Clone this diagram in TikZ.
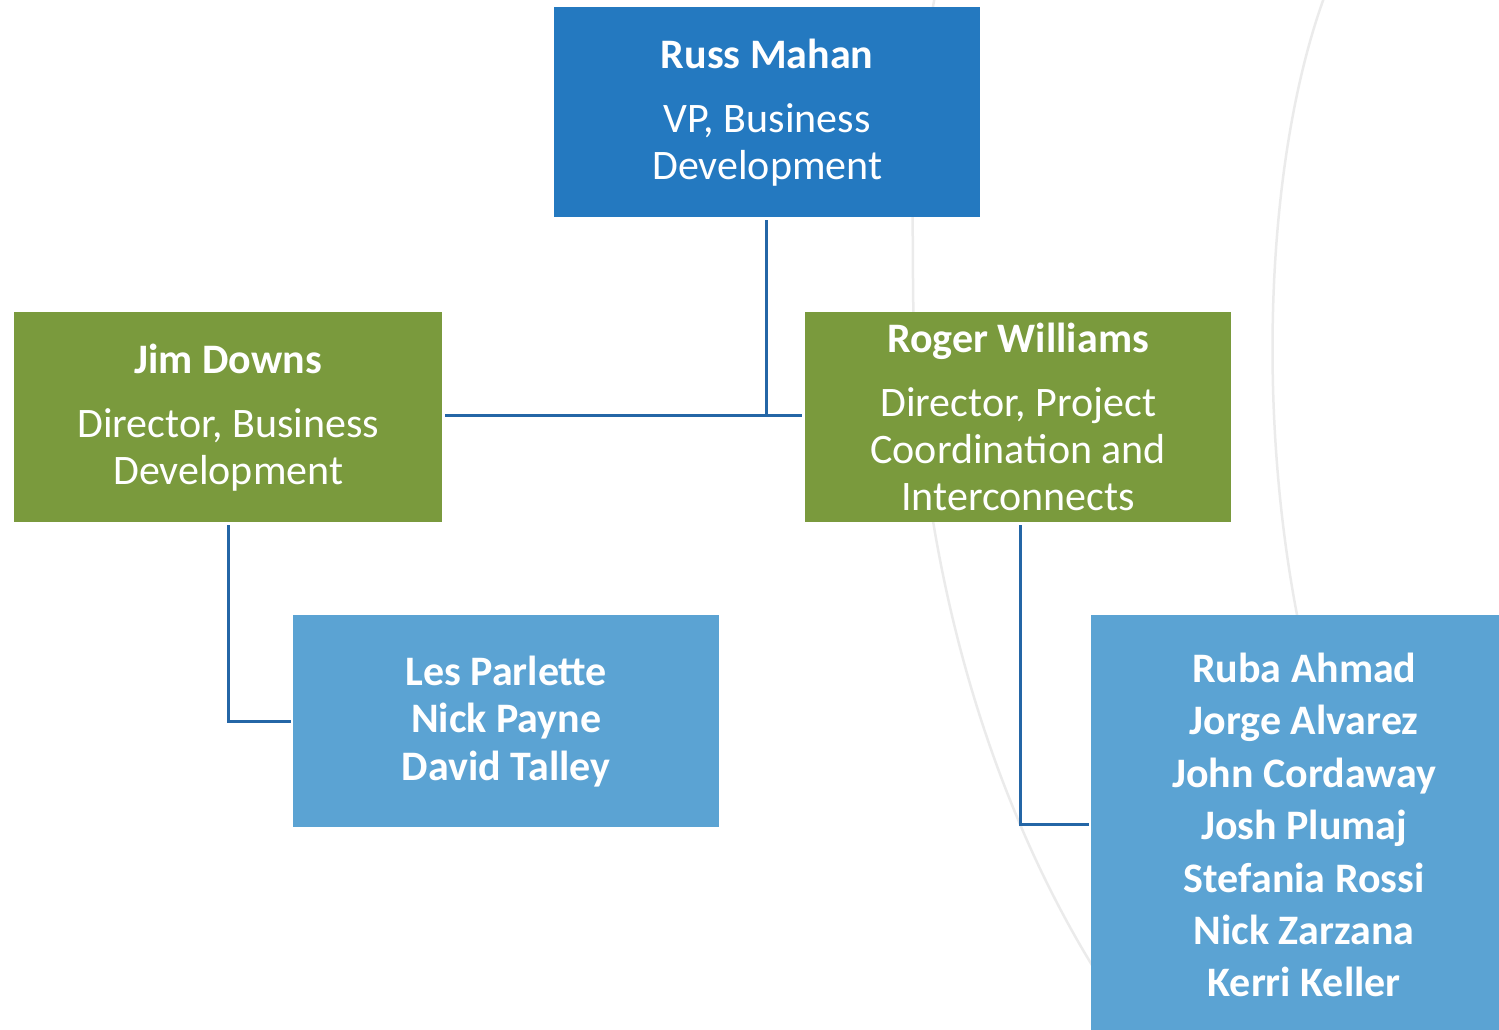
\documentclass[tikz,border=0pt]{standalone}
\usepackage{fontspec}
\setmainfont{Carlito}
\definecolor{dkblue}{HTML}{2479C0}
\definecolor{grn}{HTML}{7A9A3D}
\definecolor{ltblue}{HTML}{5BA3D3}
\definecolor{connc}{HTML}{2466A6}
\definecolor{arcgray}{HTML}{EBEBEB}
\begin{document}
\begin{tikzpicture}[x=1pt,y=-1pt,
  orgbox/.style={anchor=north west, inner sep=0pt, minimum width=426pt, align=center, text=white,
                 font=\fontsize{42}{47}\selectfont},
  conn/.style={draw=connc, line width=3pt},
  bgarc/.style={draw=arcgray, line width=2.5pt}]
\path[use as bounding box] (0,0) rectangle (1499,1029);
\clip (0,0) rectangle (1499,1029);
% background arcs
\draw[bgarc] (935,-5) .. controls (912,130) .. (913,280) .. controls (914,560) and (990,800) .. (1095,970);
\draw[bgarc] (1325,-5) .. controls (1268,150) and (1255,400) .. (1298,620);
% boxes
\node[orgbox, fill=dkblue, minimum height=210pt] (russ) at (554,7)
  {\textbf{Russ Mahan}\\[17pt]VP, Business\\Development};
\node[orgbox, fill=grn, minimum height=210pt, minimum width=428pt] (jim) at (14,312)
  {\textbf{Jim Downs}\\[17pt]Director, Business\\Development};
\node[orgbox, fill=grn, minimum height=210pt] (roger) at (805,312)
  {\textbf{Roger Williams}\\[17pt]Director, Project\\Coordination and\\Interconnects};
\node[orgbox, fill=ltblue, minimum height=212pt, font=\fontsize{42}{47.5}\selectfont\bfseries] (les) at (293,615)
  {Les Parlette\\Nick Payne\\David Talley};
\node[orgbox, fill=ltblue, minimum height=420pt, font=\fontsize{42}{52.4}\selectfont\bfseries] (ruba) at (1091,615)
  {Ruba Ahmad\\Jorge Alvarez\\John Cordaway\\Josh Plumaj\\Stefania Rossi\\Nick Zarzana\\Kerri Keller};
% connectors
\coordinate (hub) at ([xshift=-1pt]russ.south |- jim.east);
\draw[conn] ([xshift=-1pt,yshift=-3pt]russ.south) -- ([yshift=2pt]hub);
\draw[conn] ([xshift=3pt,yshift=2pt]jim.east) -- ([xshift=-3pt,yshift=2pt]roger.west);
\draw[conn] ([yshift=-3pt]jim.south) |- ([xshift=-2pt]les.west);
\draw[conn] ([xshift=2pt,yshift=-3pt]roger.south) |- ([xshift=-2pt,yshift=1pt]ruba.west);
\end{tikzpicture}
\end{document}
